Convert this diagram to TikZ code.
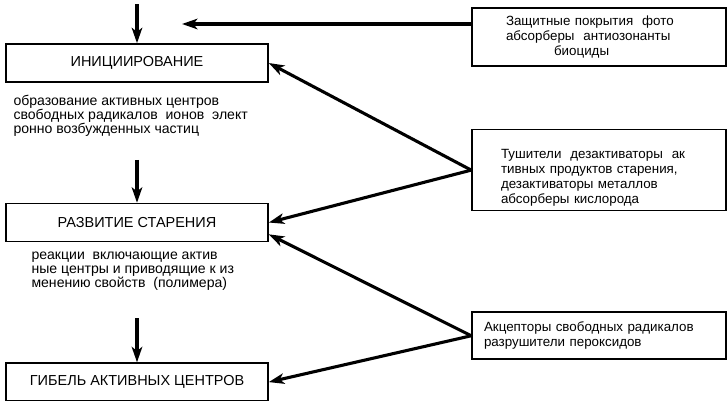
\documentclass[tikz,border=0pt]{standalone}
\usepackage{fontspec}
\setmainfont{Liberation Sans}
\usetikzlibrary{arrows.meta,positioning}
\tikzset{
    scheme/.style={>={Stealth[length=11pt,width=7.5pt,inset=3pt]},node distance=3cm},
    stage/.style={rectangle,draw,line width=1.1pt,minimum width=6.55cm,
                  minimum height=0.95cm,font=\fontsize{10.3}{12}\selectfont},
    remedy/.style={rectangle,draw,line width=1.1pt,minimum width=6.35cm,
                   align=left,font=\fontsize{9.5}{10.7}\selectfont},
    note/.style={align=left,inner sep=0pt,font=\fontsize{10}{10}\selectfont},
    flow/.style={->,line width=2.2pt},
    }

\begin{document}
\begin{tikzpicture}[scheme]
    \useasboundingbox (0,0) rectangle (18.2,-10.025);

    % stages of ageing, left column
    \node[stage] (init) at (3.425,-1.575) {ИНИЦИИРОВАНИЕ};
    \node[stage] (razv) [below=of init] {РАЗВИТИЕ СТАРЕНИЯ};
    \node[stage] (gibel) [below=of razv] {ГИБЕЛЬ АКТИВНЫХ ЦЕНТРОВ};

    \node[note] (init-note) [below right=0.3cm and 0.2cm of init.south west]
        {образование активных центров\\свободных радикалов\ \ ионов\ \ элект\\ронно возбужденных частиц};
    \node[note] (razv-note) [below right=0.225cm and 0.65cm of razv.south west]
        {реакции\ \ включающие актив\\ные центры и приводящие к из\\менению свойств\ \ (полимера)};

    % protective agents, right column
    \node[remedy,minimum height=1.45cm,text width=4.65cm,inner xsep=0.85cm] (zashch) at (14.975,-0.925)
        {Защитные покрытия\ \ фото\\абсорберы\ \ антиозонанты\\\hspace*{3.6em}биоциды};
    \node[remedy,minimum height=2cm,text width=4.9cm,inner xsep=0.725cm] (tush) [below=1.55cm of zashch]
        {\rule{0pt}{17pt}Тушители\ \ дезактиваторы\ \ ак\\тивных продуктов старения,\\дезактиваторы металлов\\абсорберы кислорода};
    \node[remedy,minimum height=1.175cm,text width=5.75cm,inner xsep=0.3cm] (akcep) [below=2.5cm of tush]
        {Акцепторы свободных радикалов\\разрушители пероксидов};

    \coordinate[above=0.975cm of init.north] (init-in);
    \coordinate[above=1.075cm of razv.north] (razv-in);
    \coordinate[above=1.1cm of gibel.north] (gibel-in);
    \coordinate (zashch-end) at (4.55,-0.6);

    \path[flow] (init-in) edge (init);
    \path[flow] (razv-in) edge (razv);
    \path[flow] (gibel-in) edge (gibel);

    \path[flow] (zashch.west |- zashch-end) edge (zashch-end);
    \path[flow] (tush.west) edge (init.east);
    \path[flow] (tush.west) edge (razv.east);
    \path[flow] (akcep.west) edge ([yshift=0.2cm]razv.south east);
    \path[flow] (akcep.west) edge (gibel.east);
\end{tikzpicture}
\end{document}
